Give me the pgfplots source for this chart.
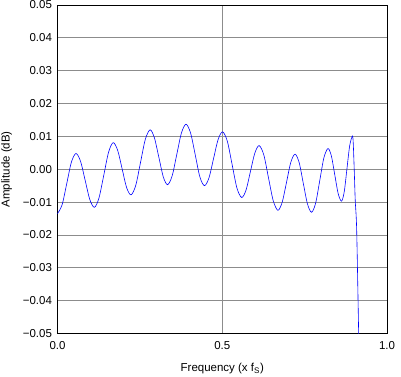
\documentclass[border=0pt]{standalone}
\usepackage{pgfplots}
\pgfplotsset{compat=1.18}
\usepackage{fontspec}
\setmainfont{Liberation Sans}
\begin{document}
\begin{tikzpicture}[x=1bp,y=1bp]
\useasboundingbox (-57.5bp,-43.5bp) rectangle (343.5bp,333.5bp);
\begin{axis}[
  scale only axis,
  width=329.5bp, height=328.5bp,
  xmin=0, xmax=1, ymin=-0.05, ymax=0.05,
  xtick={0,0.5,1}, ytick={-0.05,-0.04,-0.03,-0.02,-0.01,0,0.01,0.02,0.03,0.04,0.05},
  xticklabels={0.0,0.5,1.0},
  yticklabels={\textminus0.05,\textminus0.04,\textminus0.03,\textminus0.02,\textminus0.01,0.00,0.01,0.02,0.03,0.04,0.05},
  major tick length=0pt,
  xmajorgrids, ymajorgrids,
  grid style={draw=black!45, line width=0.8pt},
  axis line style={black, line width=0.8pt},
  tick label style={font=\fontsize{11.5bp}{13bp}\selectfont},
  yticklabel style={xshift=-2bp},
  xticklabel style={yshift=-4bp},
  label style={font=\fontsize{11.5bp}{13bp}\selectfont},
  xlabel={Frequency (x f\textsubscript{S})},
  ylabel={Amplitude (dB)},
  xlabel style={yshift=-7bp},
  ylabel style={yshift=4bp},
  clip=true,
]
\addplot[blue, line width=0.6pt, smooth, tension=0.5] coordinates {
(0, -0.0135) (0.014,-0.0108) (0.028,-0.0044) (0.042,0.0021)
(0.056, 0.0048) (0.070,0.0024) (0.084,-0.0034) (0.098,-0.0092)
(0.112, -0.0116) (0.126,-0.0087) (0.1405,-0.0018) (0.155,0.0052)
(0.169, 0.0081) (0.1825,0.0058) (0.196,0.0002) (0.2095,-0.0055)
(0.223, -0.0078) (0.2375,-0.0049) (0.252,0.0021) (0.2665,0.0091)
(0.281, 0.0120) (0.294,0.0096) (0.3075,0.0037) (0.321,-0.0023)
(0.334, -0.0047) (0.348,-0.0020) (0.362,0.0045) (0.376,0.0110)
(0.390, 0.0137) (0.404,0.0110) (0.418,0.0044) (0.432,-0.0023)
(0.446, -0.0050) (0.4598,-0.0026) (0.4735,0.0032) (0.4873,0.0090)
(0.501, 0.0114) (0.5155,0.0085) (0.530,0.0014) (0.5445,-0.0057)
(0.559, -0.0086) (0.5723,-0.0063) (0.5855,-0.0007) (0.5988,0.0049)
(0.612, 0.0072) (0.6263,0.0043) (0.6405,-0.0027) (0.6548,-0.0096)
(0.669, -0.0125) (0.682,-0.0100) (0.695,-0.0040) (0.708,0.0021)
(0.721, 0.0046) (0.7335,0.0020) (0.746,-0.0043) (0.7585,-0.0105)
(0.771, -0.0131) (0.7835,-0.0103) (0.796,-0.0034) (0.8085,0.0035)
(0.821, 0.0063) (0.8313,0.0040) (0.8415,-0.0017) (0.8518,-0.0074)
(0.862, -0.0097) (0.8703,-0.0068) (0.8785,0.0002) (0.8868,0.0072)
(0.895, 0.0101) (0.8975,0.0080) (0.9005,0.0000) (0.9036,-0.0095)
(0.908,-0.0186) (0.914,-0.0500) (0.915,-0.0550)
};
\node[font=\fontsize{6bp}{7bp}\selectfont, anchor=east] at (rel axis cs:1.04,-0.105) {G031};
\end{axis}
\end{tikzpicture}
\end{document}
